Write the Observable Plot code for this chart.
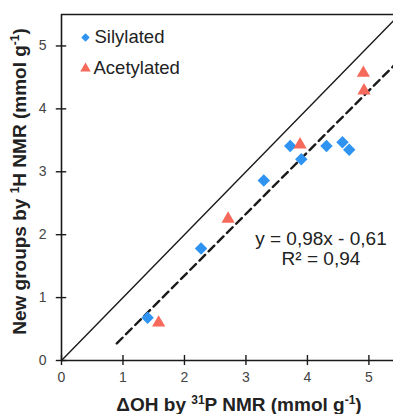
<!DOCTYPE html>
<html><head><meta charset="utf-8">
<script src="https://cdn.jsdelivr.net/npm/d3@7"></script>
<script src="https://cdn.jsdelivr.net/npm/@observablehq/plot@0.6"></script>
<style>body{margin:0;background:#fff} svg{display:block}</style>
</head><body><div id="chart"></div>
<script>
// ---- data ----
const silX = [1.40, 2.27, 3.29, 3.72, 3.90, 4.31, 4.57, 4.68];
const silY = [0.68, 1.78, 2.86, 3.41, 3.20, 3.41, 3.47, 3.35];
const aceX = [1.58, 2.71, 3.88, 4.91, 4.92];
const aceY = [0.60, 2.25, 3.43, 4.57, 4.29];
const xTicks = [0, 1, 2, 3, 4, 5];
const yTicks = [0, 1, 2, 3, 4, 5];
const fitSlope = 0.98, fitIntercept = -0.61;
const fitXRange = [0.9, 5.4];
const identityRange = [0, 5.4];
const seriesNames = ["Silylated", "Acetylated"];
const equationText = ["y = 0,98x - 0,61", "R² = 0,94"];
const equationAt = [4.22, 1.78];

const blue = "#2f93f2", red = "#f66a5c", ink = "#1a1a1a", txt = "#222", tickTxt = "#444";
const FONT = "Liberation Sans, Arial, sans-serif";
const sil = silX.map((x, i) => ({x, y: silY[i]}));
const ace = aceX.map((x, i) => ({x, y: aceY[i]}));
const identity = identityRange.map(v => ({x: v, y: v}));
const fit = fitXRange.map(x => ({x, y: fitSlope * x + fitIntercept}));

const chart = Plot.plot({
  width: 393, height: 414,
  marginLeft: 61, marginRight: 0, marginTop: 14, marginBottom: 54,
  style: {fontFamily: FONT, background: "#fff", color: txt},
  x: {domain: [0, 5.4]},
  y: {domain: [0, 5.5]},
  marks: [
    Plot.line(identity, {x: "x", y: "y", stroke: ink, strokeWidth: 1.4}),
    Plot.line(fit, {x: "x", y: "y", stroke: ink, strokeWidth: 2.4, strokeDasharray: "8,5"}),
    Plot.dot(sil, {x: "x", y: "y", symbol: "diamond2", fill: blue, r: 5.6}),
    Plot.dot(ace, {x: "x", y: "y", symbol: "triangle", fill: red, r: 4.9}),
    Plot.text([equationText.join("\n")], {x: () => equationAt[0], y: () => equationAt[1], text: d => d, fontSize: 19, fill: txt, textAnchor: "middle", lineAnchor: "middle", lineHeight: 1.06}),
    // legend
    Plot.dot([seriesNames[0]], {frameAnchor: "top-left", dx: 24, dy: 23, symbol: "diamond2", fill: blue, r: 3.8}),
    Plot.text([seriesNames[0]], {frameAnchor: "top-left", dx: 33, dy: 23, text: d => d, fontSize: 18.5, fill: txt, textAnchor: "start", lineAnchor: "middle"}),
    Plot.dot([seriesNames[1]], {frameAnchor: "top-left", dx: 24, dy: 54, symbol: "triangle", fill: red, r: 3.9}),
    Plot.text([seriesNames[1]], {frameAnchor: "top-left", dx: 32, dy: 53.5, text: d => d, fontSize: 18.5, fill: txt, textAnchor: "start", lineAnchor: "middle"}),
    // axes
    Plot.ruleX(xTicks, {x: d => d, y1: -0.08, y2: 0.08, stroke: ink, strokeWidth: 1.4}),
    Plot.ruleY(yTicks, {y: d => d, x1: -0.085, x2: 0.085, stroke: ink, strokeWidth: 1.4}),
    Plot.axisX({ticks: xTicks, tickSize: 0, tickPadding: 12, fontSize: 14, fill: tickTxt, tickFormat: d3.format("d"), label: null}),
    Plot.axisY({ticks: yTicks, tickSize: 0, tickPadding: 15, fontSize: 14, fill: tickTxt, tickFormat: d3.format("d"), label: null}),
    Plot.ruleX([0], {stroke: ink, strokeWidth: 1.6}),
    Plot.ruleY([0], {stroke: ink, strokeWidth: 1.6}),
    Plot.ruleY([5.5], {stroke: ink, strokeWidth: 1.6})
  ]
});
document.getElementById("chart").appendChild(chart);

// axis titles with superscripts
const svg = d3.select(chart);
function title(g, parts) {
  const t = g.append("text").attr("text-anchor", "middle").attr("font-weight", "bold")
    .attr("font-size", 19).attr("fill", txt).attr("font-family", FONT);
  let raised = false;
  parts.forEach(([s, sup]) => {
    const ts = t.append("tspan").text(s);
    if (sup) { ts.attr("font-size", 12).attr("dy", -7); raised = true; }
    else if (raised) { ts.attr("dy", 7); raised = false; }
  });
  return t;
}
title(svg.append("g").attr("transform", "translate(239,411)"),
  [["ΔOH by "], ["31", true], ["P NMR (mmol g"], ["-1", true], [")"]]);
title(svg.append("g").attr("transform", "translate(26,181.5) rotate(-90)"),
  [["New groups by "], ["1", true], ["H NMR (mmol g"], ["-1", true], [")"]]);
</script>
</body></html>
